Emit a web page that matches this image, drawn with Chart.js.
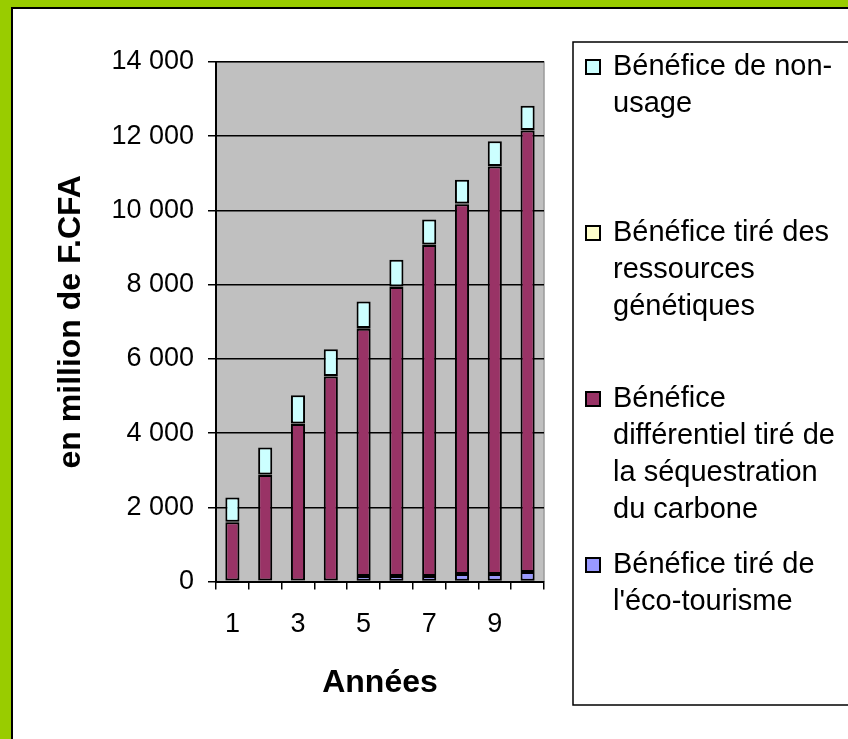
<!DOCTYPE html>
<html>
<head>
<meta charset="utf-8">
<script src="https://cdn.jsdelivr.net/npm/chart.js@4.4.1/dist/chart.umd.min.js"></script>
<style>
  html, body { margin: 0; padding: 0; }
  body { background: #99CC00; width: 848px; height: 739px; overflow: hidden; position: relative; }
  #frame {
    position: absolute; left: 11px; top: 7px;
    width: 835px; height: 730px;
    border-left: 2px solid #000; border-top: 2px solid #000;
    background: #fff;
  }
  #myChart { display: block; }
</style>
</head>
<body>
<div id="frame"><canvas id="myChart" width="835" height="730"></canvas></div>
<script>
'use strict';

var years = ['1', '2', '3', '4', '5', '6', '7', '8', '9', '10'];
var ecoTourisme = [25, 30, 30, 30, 150, 150, 150, 200, 200, 255];
var carbone = [1570, 2840, 4212, 5493, 6664, 7786, 8916, 9969, 10983, 11896];
var genetique = [15, 15, 15, 15, 15, 15, 15, 15, 15, 15];
var nonUsage = [656, 727, 761, 718, 718, 718, 675, 646, 663, 655];
var yTicks = [0, 2000, 4000, 6000, 8000, 10000, 12000, 14000];

var FONT = "Arial, 'Liberation Sans', sans-serif";

// plot area background (grey like the excel one)
var plotBg = {
	id: 'plotBg',
	beforeDraw: function(chart) {
		var a = chart.chartArea, ctx = chart.ctx;
		ctx.save();
		ctx.fillStyle = '#C0C0C0';
		ctx.fillRect(a.left, a.top, a.right - a.left, a.bottom - a.top);
		ctx.strokeStyle = '#9a9a9a';
		ctx.lineWidth = 1.5;
		ctx.beginPath();
		ctx.moveTo(a.left, a.top);
		ctx.lineTo(a.right, a.top);
		ctx.lineTo(a.right, a.bottom);
		ctx.stroke();
		ctx.restore();
	}
};

function wrapText(ctx, text, maxW) {
	var tokens = text.split(/(?<= )|(?<=-)/);
	var lines = [], line = '';
	tokens.forEach(function(t) {
		if (line && ctx.measureText((line + t).trim()).width > maxW) {
			lines.push(line.trim());
			line = t;
		} else {
			line += t;
		}
	});
	if (line) lines.push(line.trim());
	return lines;
}

// legend drawn by hand, excel style with wrapped labels
var boxLegend = {
	id: 'boxLegend',
	afterDraw: function(chart) {
		var ctx = chart.ctx;
		ctx.save();
		ctx.strokeStyle = '#000';
		ctx.lineWidth = 1.5;
		ctx.strokeRect(560, 33, 400, 663);
		ctx.font = '29px ' + FONT;
		ctx.textBaseline = 'alphabetic';
		var sets = chart.data.datasets.slice().reverse();
		sets.forEach(function(ds, i) {
			var base = 66 + i * 166;
			ctx.fillStyle = ds.backgroundColor;
			ctx.fillRect(573, base - 15, 14, 14);
			ctx.lineWidth = 2;
			ctx.strokeRect(573, base - 15, 14, 14);
			ctx.fillStyle = '#000';
			wrapText(ctx, ds.label, 235).forEach(function(l, j) {
				ctx.fillText(l, 600, base + j * 37);
			});
		});
		ctx.restore();
	}
};

function makeSet(label, data, color) {
	return {
		label: label,
		data: data,
		backgroundColor: color,
		borderColor: '#000',
		borderWidth: 2,
		borderSkipped: false,
		barPercentage: 0.43,
		categoryPercentage: 1
	};
}

var ctx = document.getElementById('myChart');
var myChart = new Chart(ctx, {
	type: 'bar',
	data: {
		labels: years,
		datasets: [
			makeSet("Bénéfice tiré de l'éco-tourisme", ecoTourisme, '#9999FF'),
			makeSet('Bénéfice différentiel tiré de la séquestration du carbone', carbone, '#993366'),
			makeSet('Bénéfice tiré des ressources génétiques', genetique, '#FFFFCC'),
			makeSet('Bénéfice de non-usage', nonUsage, '#CCFFFF')
		]
	},
	options: {
		responsive: false,
		animation: false,
		layout: { padding: { top: 53, right: 304, left: 0, bottom: 0 } },
		plugins: {
			legend: { display: false },
			tooltip: { enabled: false }
		},
		scales: {
			x: {
				stacked: true,
				offset: true,
				afterFit: function(scale) { scale.height = 157.5; },
				border: { display: true, color: '#000', width: 2 },
				grid: { offset: true, drawOnChartArea: false, drawTicks: true, tickLength: 8, color: '#000', lineWidth: 1.5 },
				ticks: {
					autoSkip: false,
					maxRotation: 0,
					padding: 19,
					color: '#000',
					font: { family: FONT, size: 27 },
					callback: function(v, i) { return i % 2 === 0 ? years[i] : ''; }
				},
				title: {
					display: true,
					text: 'Années',
					color: '#000',
					font: { family: FONT, size: 32, weight: 'bold' },
					padding: { top: 0, bottom: 37 }
				}
			},
			y: {
				stacked: true,
				min: 0,
				max: 14000,
				afterFit: function(scale) { scale.width = 203; },
				afterBuildTicks: function(scale) {
					scale.ticks = yTicks.map(function(v) { return { value: v }; });
				},
				border: { display: true, color: '#000', width: 2 },
				grid: { color: '#000', lineWidth: 1.5, tickLength: 8 },
				ticks: {
					padding: 14,
					color: '#000',
					font: { family: FONT, size: 27 },
					callback: function(v) {
						return String(v).replace(/\B(?=(\d{3})+(?!\d))/g, ' ');
					}
				},
				title: {
					display: true,
					text: 'en million de F.CFA',
					color: '#000',
					font: { family: FONT, size: 32, weight: 'bold' },
					padding: { top: 39, bottom: 0 }
				}
			}
		}
	},
	plugins: [plotBg, boxLegend]
});
</script>
</body>
</html>
